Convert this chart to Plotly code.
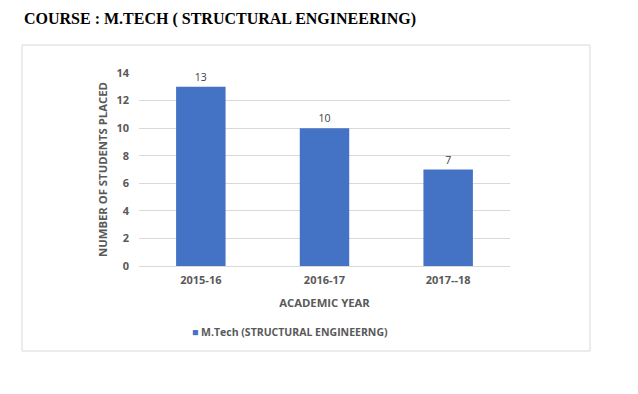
import plotly.graph_objects as go

years = ["2015-16", "2016-17", "2017--18"]
placed = [13, 10, 7]
series_name = "M.Tech (STRUCTURAL ENGINEERNG)"
y_ticks = [0, 2, 4, 6, 8, 10, 12, 14]

OFF = 8  # page body margin
W, H = 638 - OFF, 394 - OFF
L, R, T, B = 139 - OFF, 510 - OFF, 73 - OFF, 266 - OFF

fig = go.Figure()
fig.add_trace(go.Bar(
    x=years, y=placed, name=series_name,
    marker=dict(color="#4472c4", line=dict(width=0)),
    width=0.4,
    text=[str(v) for v in placed], textposition="outside",
    textfont=dict(family="Open Sans", size=10.5, color="#404040"),
    cliponaxis=False, showlegend=False,
))

def px(x):
    return (x - OFF - L) / (R - L)

def py(y):
    return (B - (y - OFF)) / (B - T)

fig.add_shape(type="rect", xref="paper", yref="paper",
              x0=px(22), x1=px(590), y0=py(351), y1=py(45),
              line=dict(color="#d9d9d9", width=1), layer="below")

fig.add_annotation(text="<b>COURSE : M.TECH ( STRUCTURAL ENGINEERING)</b>",
                   xref="paper", yref="paper", x=px(22), y=py(19),
                   xanchor="left", yanchor="middle", showarrow=False,
                   font=dict(family="Liberation Serif", size=16, color="black"))

fig.add_annotation(text="<span style='color:#4472c4'>■</span> <b>" + series_name + "</b>",
                   xref="paper", yref="paper", x=px(190), y=py(332),
                   xanchor="left", yanchor="middle", showarrow=False,
                   font=dict(family="Open Sans", size=10.5, color="#595959"))

fig.update_layout(
    width=W, height=H,
    margin=dict(l=L, r=W - R, t=T, b=H - B),
    paper_bgcolor="white", plot_bgcolor="white",
    showlegend=False,
    bargap=0.6,
)
fig.update_xaxes(
    showline=True, linecolor="#d9d9d9", linewidth=1, ticks="", ticklabelstandoff=4,
    tickfont=dict(family="Open Sans", size=11, color="#595959", weight="bold"),
    title=dict(text="<b>ACADEMIC YEAR</b>", standoff=12,
               font=dict(family="Open Sans", size=11.3, color="#595959")),
)
fig.update_yaxes(
    range=[0, 14], tickvals=y_ticks, showgrid=True, gridcolor="#d9d9d9",
    zeroline=False, showline=False, ticks="", ticklabelstandoff=9,
    tickfont=dict(family="Open Sans", size=11, color="#595959", weight="bold"),
    title=dict(text="<b>NUMBER OF STUDENTS PLACED</b>", standoff=6,
               font=dict(family="Open Sans", size=11.3, color="#595959")),
)

fig.write_html("out.html")
